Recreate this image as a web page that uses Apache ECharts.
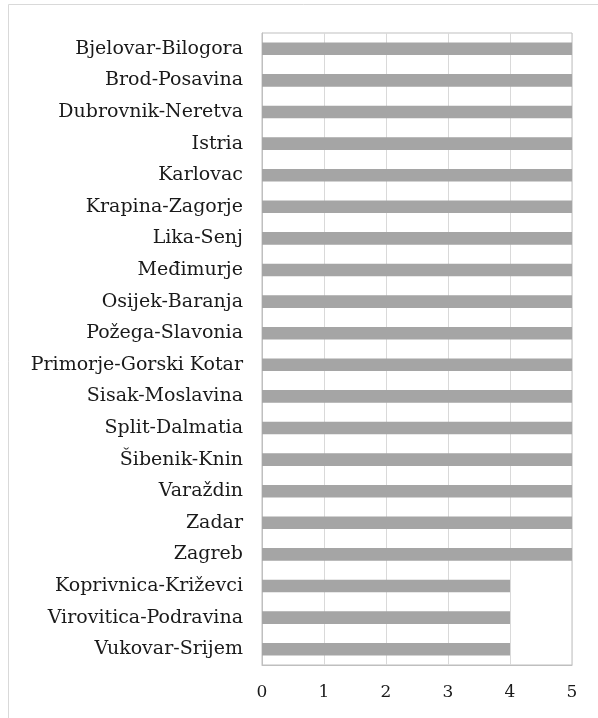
<!DOCTYPE html>
<html><head><meta charset="utf-8">
<script src="https://cdn.jsdelivr.net/npm/echarts@6/dist/echarts.min.js"></script>
<style>html,body{margin:0;padding:0;background:#fff}#c{width:598px;height:718px}</style>
</head><body><div id="c"></div>
<script>
const categories = ["Bjelovar-Bilogora","Brod-Posavina","Dubrovnik-Neretva","Istria","Karlovac","Krapina-Zagorje","Lika-Senj","Međimurje","Osijek-Baranja","Požega-Slavonia","Primorje-Gorski Kotar","Sisak-Moslavina","Split-Dalmatia","Šibenik-Knin","Varaždin","Zadar","Zagreb","Koprivnica-Križevci","Virovitica-Podravina","Vukovar-Srijem"];
const values = [5,5,5,5,5,5,5,5,5,5,5,5,5,5,5,5,5,4,4,4];
const xTicks = ["0","1","2","3","4","5"];

const chart = echarts.init(document.getElementById('c'), null, {renderer:'canvas'});
const font = '"DejaVu Serif", serif';
chart.setOption({
  animation:false,
  backgroundColor:'#fff',
  graphic:[{type:'rect', shape:{x:8.5,y:4.5,width:700,height:800}, style:{fill:'none',stroke:'#d9d9d9',lineWidth:1}, silent:true}],
  grid:{left:262,right:26,top:33,bottom:53,show:true,borderColor:'#bfbfbf',borderWidth:1,backgroundColor:'transparent'},
  xAxis:{type:'value',min:0,max:5,interval:1,
    axisLine:{show:true,lineStyle:{color:'#bfbfbf'}},axisTick:{show:false},
    splitLine:{show:true,lineStyle:{color:'#d9d9d9',width:1}},
    axisLabel:{color:'#1a1a1a',fontFamily:font,fontSize:17,margin:19,formatter:v=>xTicks[v]}},
  yAxis:{type:'category',data:categories,inverse:true,
    axisLine:{show:true,lineStyle:{color:'#bfbfbf'}},axisTick:{show:false},
    splitLine:{show:false},
    axisLabel:{color:'#1a1a1a',fontFamily:font,fontSize:19,margin:19}},
  series:[{type:'bar',data:values,barCategoryGap:'60%',itemStyle:{color:'#a5a5a5'},silent:true}]
});
</script></body></html>
